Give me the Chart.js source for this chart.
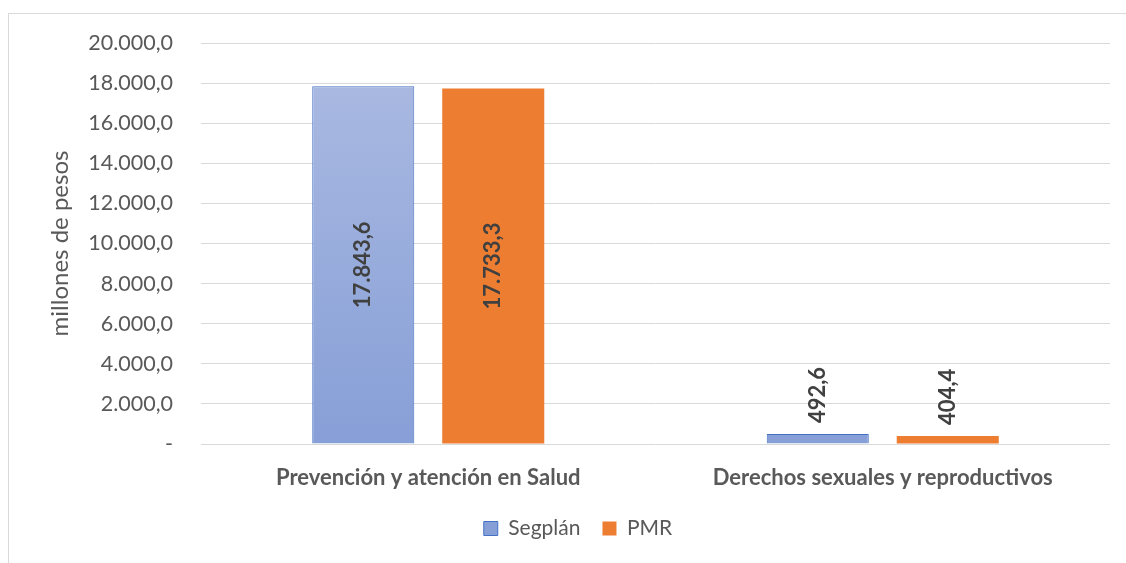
<!DOCTYPE html>
<html lang="es">
<head>
    <meta charset="UTF-8">
    <title>Segplán vs PMR</title>
    <script src="https://cdn.jsdelivr.net/npm/chart.js"></script>
    <style>
        body {
            margin: 0;
            padding: 0;
            background-color: #ffffff;
            overflow: hidden;
        }
        .frame {
            position: absolute;
            left: 8px;
            top: 13px;
            width: 1140px;
            height: 580px;
            border: 1px solid #d9d9d9;
            box-sizing: border-box;
        }
        .chart-box {
            position: absolute;
            left: 0;
            top: 0;
            width: 1126px;
            height: 563px;
        }
    </style>
</head>
<body>
    <div class="frame"></div>
    <div class="chart-box">
        <canvas id="budgetChart"></canvas>
    </div>

    <script>
        // Datos
        const categories = ['Prevención y atención en Salud', 'Derechos sexuales y reproductivos'];
        const segplan = [17843.6, 492.6];
        const pmr = [17733.3, 404.4];
        const yTicks = [0, 2000, 4000, 6000, 8000, 10000, 12000, 14000, 16000, 18000, 20000];

        const FONT = 'Lato, "Open Sans", sans-serif';
        const GREY = '#595959';

        function fmt(v) {
            if (v === 0) return '-';
            return v.toLocaleString('de-DE', { minimumFractionDigits: 1, maximumFractionDigits: 1 });
        }

        function blueGradient(context) {
            const area = context.chart.chartArea;
            if (!area) return '#9aaedd';
            const g = context.chart.ctx.createLinearGradient(0, area.top, 0, area.bottom);
            g.addColorStop(0, '#acbbe2');
            g.addColorStop(1, '#879fd7');
            return g;
        }

        // etiquetas de valor giradas
        const valueLabels = {
            id: 'valueLabels',
            afterDatasetsDraw(chart) {
                const ctx = chart.ctx;
                ctx.save();
                ctx.font = 'bold 22px ' + FONT;
                ctx.fillStyle = '#404040';
                chart.data.datasets.forEach((ds, i) => {
                    const meta = chart.getDatasetMeta(i);
                    meta.data.forEach((bar, j) => {
                        const text = fmt(ds.data[j]);
                        const w = ctx.measureText(text).width;
                        const h = bar.base - bar.y;
                        ctx.save();
                        ctx.translate(bar.x, 0);
                        ctx.rotate(-Math.PI / 2);
                        ctx.textBaseline = 'middle';
                        if (h > w + 20) {
                            ctx.textAlign = 'center';
                            ctx.fillText(text, -(bar.y + h / 2), 0);
                        } else {
                            ctx.textAlign = 'left';
                            ctx.fillText(text, -(bar.y - 11), 0);
                        }
                        ctx.restore();
                    });
                });
                ctx.restore();
            }
        };

        const ctx = document.getElementById('budgetChart').getContext('2d');
        new Chart(ctx, {
            type: 'bar',
            data: {
                labels: categories,
                datasets: [
                    {
                        label: 'Segplán',
                        data: segplan,
                        backgroundColor: blueGradient,
                        borderColor: '#4472c4',
                        borderWidth: 1,
                        categoryPercentage: 0.572,
                        barPercentage: 0.785
                    },
                    {
                        label: 'PMR',
                        data: pmr,
                        backgroundColor: '#ed7d31',
                        borderColor: '#ed7d31',
                        borderWidth: 0,
                        categoryPercentage: 0.572,
                        barPercentage: 0.785
                    }
                ]
            },
            options: {
                responsive: true,
                maintainAspectRatio: false,
                animation: false,
                layout: {
                    padding: { left: 46, right: 16, top: 43, bottom: 14 }
                },
                plugins: {
                    legend: {
                        position: 'bottom',
                        labels: {
                            color: GREY,
                            font: { family: FONT, size: 21 },
                            boxWidth: 14,
                            boxHeight: 14,
                            padding: 22
                        }
                    },
                    tooltip: { enabled: false }
                },
                scales: {
                    x: {
                        grid: { display: false },
                        border: { display: false },
                        ticks: {
                            color: GREY,
                            font: { family: FONT, size: 22, weight: 'bold' },
                            padding: 13
                        },
                        afterFit(scale) { scale.height = 52; }
                    },
                    y: {
                        min: 0,
                        max: 20000,
                        afterBuildTicks(scale) {
                            scale.ticks = yTicks.map(v => ({ value: v }));
                        },
                        grid: { color: '#d9d9d9', lineWidth: 1, drawTicks: false },
                        border: { display: false },
                        ticks: {
                            color: GREY,
                            font: { family: FONT, size: 21.5 },
                            padding: 28,
                            callback: v => fmt(v)
                        },
                        title: {
                            display: true,
                            text: 'millones de pesos',
                            color: GREY,
                            font: { family: FONT, size: 24 },
                            padding: 0
                        },
                        afterFit(scale) { scale.width = 155; }
                    }
                }
            },
            plugins: [valueLabels]
        });
    </script>
</body>
</html>
